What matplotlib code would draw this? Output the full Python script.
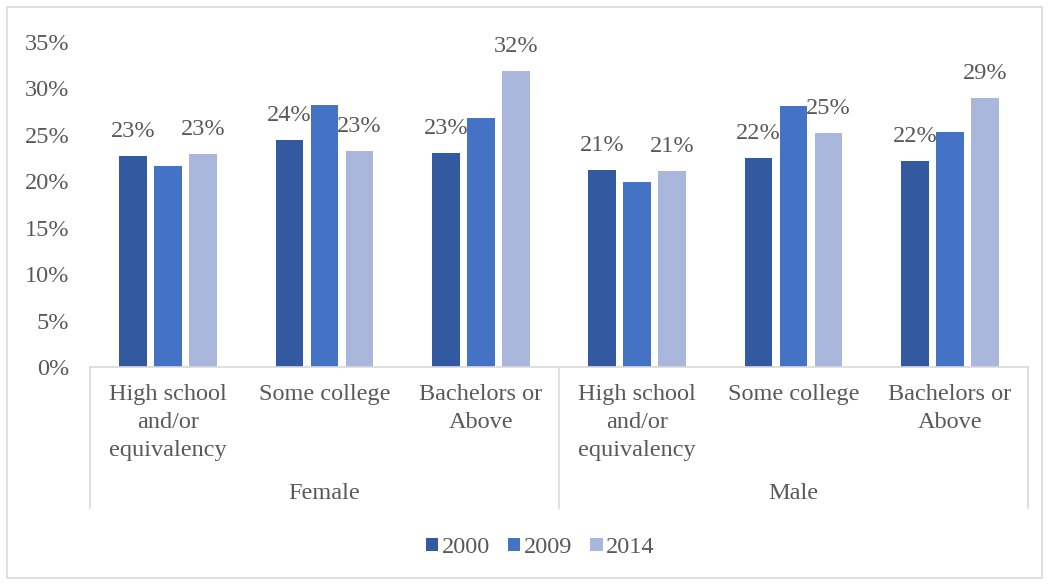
import numpy as np
import matplotlib
matplotlib.use('Agg')
import matplotlib.pyplot as plt
from matplotlib.patches import Rectangle
from matplotlib.lines import Line2D
import matplotlib.transforms as mtransforms

plt.rcParams['font.family'] = ['Liberation Serif', 'DejaVu Serif']

# data
groups = ['Female', 'Male']
categories = ['High school\nand/or\nequivalency', 'Some college', 'Bachelors or\nAbove'] * 2
years = ['2000', '2009', '2014']
v2000 = [22.7, 24.5, 23.1, 21.2, 22.5, 22.2]
v2009 = [21.7, 28.2, 26.8, 19.9, 28.1, 25.3]
v2014 = [22.9, 23.3, 31.9, 21.1, 25.2, 29.0]
labels_2000 = ['23%', '24%', '23%', '21%', '22%', '22%']
labels_2014 = ['23%', '23%', '32%', '21%', '25%', '29%']

colors = ['#335AA1', '#4472C4', '#A9B7DC']
txt = '#595959'
grid_col = '#D9D9D9'
fs = 17.5

fig = plt.figure(figsize=(10.49, 5.85), dpi=100)
ax = fig.add_axes([0.0858, 0.3726, 0.8942, 0.5556])

# border round the whole figure
fig.patches.append(Rectangle((0.007, 0.012), 0.986, 0.976, transform=fig.transFigure,
                             fill=False, edgecolor=grid_col, linewidth=1.2))

x = np.arange(len(categories))
w = 0.176
step = 0.224
series = [v2000, v2009, v2014]
bars = []
for i, vals in enumerate(series):
    b = ax.bar(x + (i - 1) * step, vals, width=w, color=colors[i], label=years[i], zorder=2)
    bars.append(b)

# data labels only for 2000 and 2014
for b, labs in [(bars[0], labels_2000), (bars[2], labels_2014)]:
    for rect, lab in zip(b, labs):
        ax.annotate(lab, (rect.get_x() + rect.get_width() / 2, rect.get_height()),
                    xytext=(0, 10), textcoords='offset points', ha='center', va='bottom',
                    fontsize=fs, color=txt)

ax.set_xlim(-0.5, 5.5)
ax.set_ylim(0, 35)
ax.set_yticks(range(0, 36, 5))
ax.set_yticklabels([f'{t}%' for t in range(0, 36, 5)])
ax.set_xticks(x)
ax.set_xticklabels(categories, linespacing=1.46)
ax.tick_params(axis='both', length=0, labelsize=fs, colors=txt)
ax.tick_params(axis='y', pad=15)
ax.tick_params(axis='x', pad=12)

for s in ['left', 'right', 'top']:
    ax.spines[s].set_visible(False)
ax.spines['bottom'].set_color(grid_col)
ax.spines['bottom'].set_linewidth(1.2)

# group separators and names
trans = mtransforms.blended_transform_factory(ax.transData, ax.transAxes)
for xs in [-0.5, 2.5, 5.5]:
    ax.add_line(Line2D([xs, xs], [0, -0.434], transform=trans, color=grid_col,
                       linewidth=1.2, clip_on=False))
for gi, g in enumerate(groups):
    ax.text(gi * 3 + 1, -0.39, g, transform=trans, ha='center', va='center',
            fontsize=fs, color=txt)

fig.legend(handles=bars, labels=years, loc='center', bbox_to_anchor=(0.515, 0.064),
           ncol=3, frameon=False, fontsize=fs, handlelength=0.5, handleheight=0.5,
           handletextpad=0.15, columnspacing=0.75, labelcolor=txt)

fig.savefig('out.png', dpi=100)
